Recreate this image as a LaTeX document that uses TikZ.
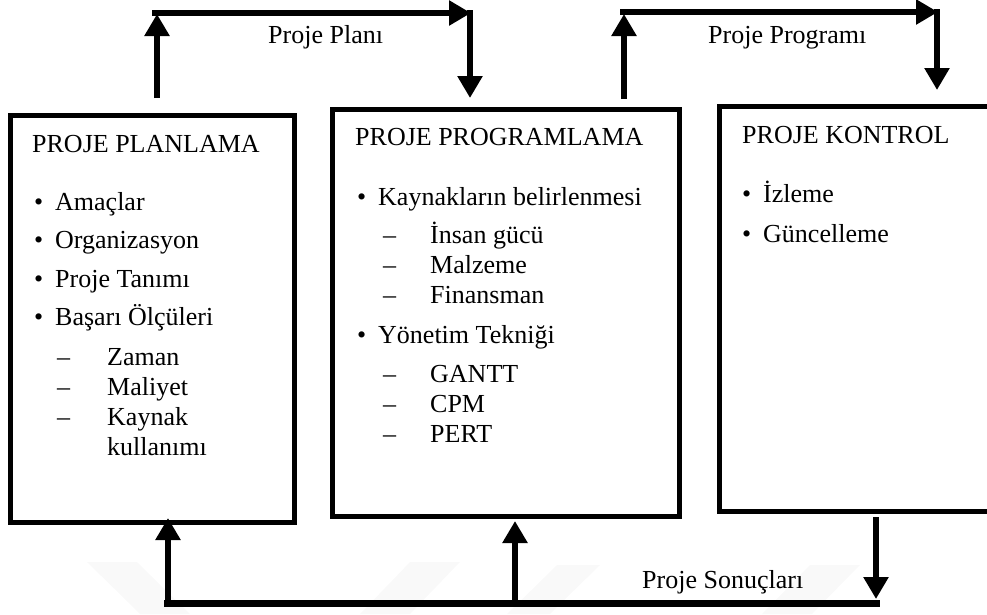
\documentclass[tikz,border=0pt]{standalone}
\usepackage{fontspec}
\setmainfont{Liberation Serif}
\usetikzlibrary{arrows.meta}

\newcommand\bulletmark{\llap{•\hspace{12pt}}}
\newcommand\dashmark[1]{\llap{–\hspace{#1}}}

\tikzset{
  panel/.style={draw=black, line width=5pt, fill=none, inner sep=0pt},
  flow/.style={line width=6.5pt, -{Triangle[length=22pt,width=24pt]}},
  bar/.style={line width=7pt},
  txt/.style={anchor=base west, inner sep=0pt, font=\fontsize{26}{30}\selectfont},
  stripe/.style={fill=gray!5, draw=none}
}

\begin{document}
\begin{tikzpicture}[x=1pt, y=-1pt]
  \useasboundingbox (0,0) rectangle (987,614);
  \clip (0,0) rectangle (987,614);

  % faint background stripes
  \fill[stripe] (87,562) -- (137,562) -- (190,614) -- (140,614) -- cycle;
  \fill[stripe] (410,562) -- (460,562) -- (410,614) -- (360,614) -- cycle;
  \fill[stripe] (557,565) -- (600,565) -- (550,614) -- (507,614) -- cycle;
  \fill[stripe] (810,565) -- (860,565) -- (812,614) -- (762,614) -- cycle;

  % the three panels
  \node[panel, minimum width=284pt, minimum height=406.5pt] (plan) at (152.5,318.75) {};
  \node[panel, minimum width=346.5pt, minimum height=406.5pt] (prog) at (505.75,312.75) {};
  \node[panel, minimum width=280.5pt, minimum height=405pt] (ctrl) at (859.75,308.5) {};

  % panel 1 text
  \node[txt] (p1t) at (32,152) {PROJE PLANLAMA};
  \node[txt] (p1a) at (55,210) {\bulletmark Amaçlar};
  \node[txt] (p1b) at (55,248) {\bulletmark Organizasyon};
  \node[txt] (p1c) at (55,287) {\bulletmark Proje Tanımı};
  \node[txt] (p1d) at (55,325) {\bulletmark Başarı Ölçüleri};
  \node[txt] (p1e) at (107,365) {\dashmark{37pt}Zaman};
  \node[txt] (p1f) at (107,395) {\dashmark{37pt}Maliyet};
  \node[txt] (p1g) at (107,425) {\dashmark{37pt}Kaynak};
  \node[txt] (p1h) at (107,455) {kullanımı};

  % panel 2 text
  \node[txt] (p2t) at (355,145) {PROJE PROGRAMLAMA};
  \node[txt] (p2a) at (378,205) {\bulletmark Kaynakların belirlenmesi};
  \node[txt] (p2b) at (430,243) {\dashmark{34pt}İnsan gücü};
  \node[txt] (p2c) at (430,273) {\dashmark{34pt}Malzeme};
  \node[txt] (p2d) at (430,303) {\dashmark{34pt}Finansman};
  \node[txt] (p2e) at (378,343) {\bulletmark Yönetim Tekniği};
  \node[txt] (p2f) at (430,382) {\dashmark{34pt}GANTT};
  \node[txt] (p2g) at (430,412) {\dashmark{34pt}CPM};
  \node[txt] (p2h) at (430,442) {\dashmark{34pt}PERT};

  % panel 3 text
  \node[txt] (p3t) at (742,143) {PROJE KONTROL};
  \node[txt] (p3a) at (763,202) {\bulletmark İzleme};
  \node[txt] (p3b) at (763,242) {\bulletmark Güncelleme};

  % route points
  \coordinate (r1a) at (157,98);
  \coordinate (r1b) at (157,14);
  \coordinate (r1c) at (152,13);
  \coordinate (r1d) at (471,13);
  \coordinate (r1e) at (470,10);
  \coordinate (r1f) at (470,98);

  \coordinate (r2a) at (624,99);
  \coordinate (r2b) at (624,14);
  \coordinate (r2c) at (620,12);
  \coordinate (r2d) at (938,12);
  \coordinate (r2e) at (937,9);
  \coordinate (r2f) at (937,90);

  \coordinate (r3a) at (876,517);
  \coordinate (r3b) at (876,599);
  \coordinate (r3l) at (164,603.5);
  \coordinate (r3r) at (880,603.5);
  \coordinate (r3p) at (168,603);
  \coordinate (r3q) at (168,518);
  \coordinate (r3s) at (515,603);
  \coordinate (r3t) at (515,521);

  % plan -> programme
  \draw[flow] (r1c) -- (r1d);
  \draw[flow] (r1a) -- (r1b);
  \draw[flow] (r1e) -- (r1f);
  \node[txt] (lab1) at (268,43) {Proje Planı};

  % programme -> control
  \draw[flow] (r2c) -- (r2d);
  \draw[flow] (r2a) -- (r2b);
  \draw[flow] (r2e) -- (r2f);
  \node[txt] (lab2) at (708,43) {Proje Programı};

  % results feedback
  \draw[bar] (r3l) -- (r3r);
  \draw[flow] (r3a) -- (r3b);
  \draw[flow] (r3p) -- (r3q);
  \draw[flow] (r3s) -- (r3t);
  \node[txt] (lab3) at (642,588) {Proje Sonuçları};
\end{tikzpicture}
\end{document}
